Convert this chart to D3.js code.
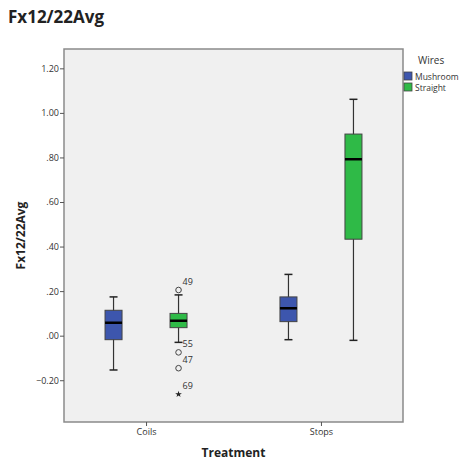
<!DOCTYPE html>
<html>
<head>
<meta charset="utf-8">
<script src="https://cdn.jsdelivr.net/npm/d3@7"></script>
<style>
  body { margin: 0; background: #fff; }
  text { font-family: "Open Sans", "DejaVu Sans", sans-serif; }
</style>
</head>
<body>
<svg class="chart" width="463" height="462"></svg>
<script>
// data
const treatments = ["Coils", "Stops"];
const wires = ["Mushroom", "Straight"];
const wireColors = ["#3d56ad", "#2fba47"];
// [whiskerLow, q1, median, q3, whiskerHigh]
const coilsMushroom = [-0.154, -0.018, 0.058, 0.114, 0.174];
const coilsStraight = [-0.030, 0.036, 0.067, 0.100, 0.183];
const stopsMushroom = [-0.018, 0.063, 0.123, 0.174, 0.275];
const stopsStraight = [-0.021, 0.433, 0.792, 0.905, 1.061];
const outlierLabels = ["49", "55", "47", "69"];
const outlierValues = [0.205, -0.075, -0.146, -0.263];
const outlierKinds = ["circle", "circle", "circle", "star"];
const yTicks = [-0.2, 0, 0.2, 0.4, 0.6, 0.8, 1.0, 1.2];

const boxes = [
  { treatment: "Coils", wire: "Mushroom", stats: coilsMushroom },
  { treatment: "Coils", wire: "Straight", stats: coilsStraight },
  { treatment: "Stops", wire: "Mushroom", stats: stopsMushroom },
  { treatment: "Stops", wire: "Straight", stats: stopsStraight },
];
const outliers = outlierLabels.map((label, i) => ({
  treatment: "Coils",
  wire: "Straight",
  label,
  value: outlierValues[i],
  kind: outlierKinds[i],
}));

const plot = { left: 64, right: 403, top: 49, bottom: 422 };

const svg = d3.select(".chart");

const x = d3
  .scalePoint()
  .domain(treatments)
  .range([plot.left, plot.right])
  .padding(0.469);

const xSub = d3.scalePoint().domain(wires).range([-32.5, 32.5]);

const y = d3
  .scaleLinear()
  .domain([-0.3875, 1.2868])
  .range([plot.bottom, plot.top]);

const color = d3.scaleOrdinal().domain(wires).range(wireColors);

// plot background
svg
  .append("rect")
  .attr("x", plot.left)
  .attr("y", plot.top)
  .attr("width", plot.right - plot.left)
  .attr("height", plot.bottom - plot.top)
  .attr("fill", "#f0f0f0")
  .attr("stroke", "#8a8a8a")
  .attr("stroke-width", 1.5);

// axes
const fmt = (d) => (d === 0 ? ".00" : d3.format(".2f")(d).replace(/^(-?)0\./, "$1."));

const yAxis = svg
  .append("g")
  .attr("transform", `translate(${plot.left},0)`)
  .call(d3.axisLeft(y).tickValues(yTicks).tickFormat(fmt).tickSize(4).tickSizeOuter(0));
yAxis.select(".domain").remove();
yAxis.selectAll("line").attr("stroke", "#555");
yAxis
  .selectAll("text")
  .attr("fill", "#333")
  .style("font-size", "9px")
  .attr("x", -5);

const xAxis = svg
  .append("g")
  .attr("transform", `translate(0,${plot.bottom})`)
  .call(d3.axisBottom(x).tickSize(4).tickSizeOuter(0));
xAxis.select(".domain").remove();
xAxis.selectAll("line").attr("stroke", "#555");
xAxis
  .selectAll("text")
  .attr("fill", "#333")
  .style("font-size", "9px")
  .attr("y", 7);

// boxes
const boxWidth = 17;
const capWidth = 8;
const g = svg.append("g");

boxes.forEach(({ treatment, wire, stats }) => {
  const cx = x(treatment) + xSub(wire);
  const [lo, q1, med, q3, hi] = stats;

  g.append("line")
    .attr("x1", cx).attr("x2", cx)
    .attr("y1", y(lo)).attr("y2", y(hi))
    .attr("stroke", "#333").attr("stroke-width", 1.2);

  [lo, hi].forEach((v) => {
    g.append("line")
      .attr("x1", cx - capWidth / 2).attr("x2", cx + capWidth / 2)
      .attr("y1", y(v)).attr("y2", y(v))
      .attr("stroke", "#222").attr("stroke-width", 1.5);
  });

  g.append("rect")
    .attr("x", cx - boxWidth / 2)
    .attr("y", y(q3))
    .attr("width", boxWidth)
    .attr("height", y(q1) - y(q3))
    .attr("fill", color(wire))
    .attr("stroke", "#444")
    .attr("stroke-width", 1);

  g.append("line")
    .attr("x1", cx - boxWidth / 2).attr("x2", cx + boxWidth / 2)
    .attr("y1", y(med)).attr("y2", y(med))
    .attr("stroke", "#000").attr("stroke-width", 2.5);
});

// outliers
outliers.forEach((o) => {
  const cx = x(o.treatment) + xSub(o.wire);
  const cy = y(o.value);
  if (o.kind === "circle") {
    g.append("circle")
      .attr("cx", cx).attr("cy", cy).attr("r", 2.8)
      .attr("fill", "none").attr("stroke", "#444").attr("stroke-width", 1);
  } else {
    g.append("path")
      .attr("d", d3.symbol(d3.symbolStar, 14)())
      .attr("transform", `translate(${cx},${cy})`)
      .attr("fill", "#222");
  }
  g.append("text")
    .attr("x", cx + 4)
    .attr("y", cy - 5)
    .attr("fill", "#333")
    .style("font-size", "9px")
    .text(o.label);
});

// titles
svg.append("text")
  .attr("x", 8).attr("y", 23)
  .style("font-size", "17px").style("font-weight", "bold")
  .attr("fill", "#222")
  .text("Fx12/22Avg");

svg.append("text")
  .attr("transform", `translate(25,${(plot.top + plot.bottom) / 2}) rotate(-90)`)
  .attr("text-anchor", "middle")
  .style("font-size", "12px").style("font-weight", "bold")
  .attr("fill", "#222")
  .text("Fx12/22Avg");

svg.append("text")
  .attr("x", (plot.left + plot.right) / 2).attr("y", 457)
  .attr("text-anchor", "middle")
  .style("font-size", "12px").style("font-weight", "bold")
  .attr("fill", "#222")
  .text("Treatment");

// legend
const legend = svg.append("g").attr("transform", "translate(404,62)");
legend.append("text")
  .attr("x", 14).attr("y", 2)
  .style("font-size", "10px")
  .attr("fill", "#333")
  .text("Wires");
wires.forEach((w, i) => {
  legend.append("rect")
    .attr("x", 0).attr("y", 10 + i * 11)
    .attr("width", 8).attr("height", 8)
    .attr("fill", color(w)).attr("stroke", "#444").attr("stroke-width", 0.8);
  legend.append("text")
    .attr("x", 11).attr("y", 17.5 + i * 11)
    .style("font-size", "8.5px")
    .attr("fill", "#333")
    .text(w);
});
</script>
</body>
</html>
